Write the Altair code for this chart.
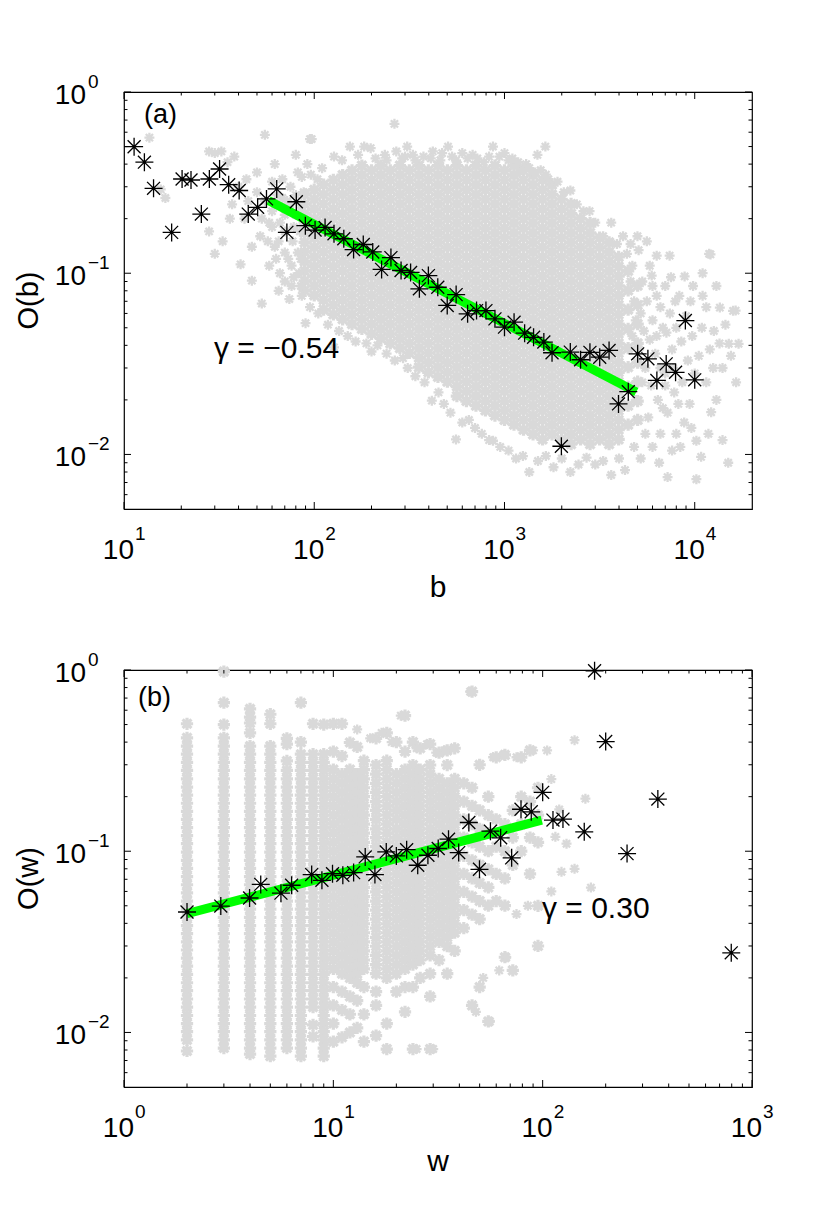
import altair as alt
import pandas as pd

W, H = 628, 417
FONT = "Liberation Sans"
GRAY = "#d9d9d9"
GREEN = "#00ff00"
STAR = "M-1,0L1,0M0,-1L0,1M-0.72,-0.72L0.72,0.72M-0.72,0.72L0.72,-0.72"

# ---------------- panel (a): O(b) ----------------
bin_a_b = [11.3, 12.8, 14.3, 17.8, 20.2, 22.5, 25.5, 28.1, 31.8, 35.5, 40.3, 45.0, 50.4, 56.1, 63.5,
           71.8, 80.5, 89.8, 101, 114, 127, 143, 161, 181, 203, 226, 253, 286, 321, 357, 398, 446,
           500, 557, 640, 713, 799, 891, 1000, 1123, 1276, 1422, 1610, 1778, 1991, 2218, 2512,
           2813, 3166, 3546, 3975, 4475, 5012, 5673, 6324, 7080, 7930, 8928, 10000]
bin_a_o = [0.499, 0.41, 0.294, 0.168, 0.331, 0.327, 0.212, 0.331, 0.376, 0.308, 0.286, 0.212, 0.231,
           0.257, 0.292, 0.168, 0.248, 0.183, 0.173, 0.179, 0.165, 0.155, 0.135, 0.144, 0.131, 0.105,
           0.122, 0.1035, 0.101, 0.082, 0.097, 0.0837, 0.0664, 0.0762, 0.0597, 0.0622, 0.0622, 0.056,
           0.0504, 0.0537, 0.0467, 0.0443, 0.0417, 0.0364, 0.0111, 0.0367, 0.0333, 0.0366, 0.0344,
           0.0375, 0.019, 0.0222, 0.0359, 0.0337, 0.0256, 0.0316, 0.0284, 0.0548, 0.0258]
fit_a_b = [57.5, 4930]
fit_a_o = [0.252, 0.0221]

gray_a_col_b = [89, 100, 112, 126, 141, 158, 178, 200, 224, 251, 282, 316, 355, 398, 447, 501, 562,
                631, 708, 794, 891, 1000, 1122, 1259, 1413, 1585, 1778, 1995, 2239, 2512, 2818, 3162,
                3548, 3981, 4467, 5012]
gray_a_col_o = [
    [.272, .241, .213, .189, .167, .148, .131, .116, .103, .0908, .0804],
    [.289, .256, .226, .2, .177, .157, .139, .123, .109, .0964, .0853, .0755],
    [.308, .272, .241, .213, .189, .167, .148, .131, .116, .103, .0908, .0804, .0711, .063],
    [.327, .289, .256, .226, .2, .177, .157, .139, .123, .109, .0964, .0853, .0755, .0668, .0592],
    [.348, .308, .272, .241, .213, .189, .167, .148, .131, .116, .103, .0908, .0804, .0711, .063, .0557],
    [.369, .327, .289, .256, .226, .2, .177, .157, .139, .123, .109, .0964, .0853, .0755, .0668, .0592, .0524],
    [.393, .348, .308, .272, .241, .213, .189, .167, .148, .131, .116, .103, .0908, .0804, .0711, .063, .0557, .0493],
    [.369, .327, .289, .256, .226, .2, .177, .157, .139, .123, .109, .0964, .0853, .0755, .0668, .0592, .0524, .0463],
    [.393, .348, .308, .272, .241, .213, .189, .167, .148, .131, .116, .103, .0908, .0804, .0711, .063, .0557, .0493, .0437],
    [.369, .327, .289, .256, .226, .2, .177, .157, .139, .123, .109, .0964, .0853, .0755, .0668, .0592, .0524, .0463, .041],
    [.393, .348, .308, .272, .241, .213, .189, .167, .148, .131, .116, .103, .0908, .0804, .0711, .063, .0557, .0493, .0437, .0386],
    [.369, .327, .289, .256, .226, .2, .177, .157, .139, .123, .109, .0964, .0853, .0755, .0668, .0592, .0524, .0463, .041, .0363],
    [.393, .348, .308, .272, .241, .213, .189, .167, .148, .131, .116, .103, .0908, .0804, .0711, .063, .0557, .0493, .0437, .0386, .0342, .0303],
    [.369, .327, .289, .256, .226, .2, .177, .157, .139, .123, .109, .0964, .0853, .0755, .0668, .0592, .0524, .0463, .041, .0363, .0321, .0284],
    [.393, .348, .308, .272, .241, .213, .189, .167, .148, .131, .116, .103, .0908, .0804, .0711, .063, .0557, .0493, .0437, .0386, .0342, .0303, .0268],
    [.369, .327, .289, .256, .226, .2, .177, .157, .139, .123, .109, .0964, .0853, .0755, .0668, .0592, .0524, .0463, .041, .0363, .0321, .0284, .0252],
    [.393, .348, .308, .272, .241, .213, .189, .167, .148, .131, .116, .103, .0908, .0804, .0711, .063, .0557, .0493, .0437, .0386, .0342, .0303, .0268, .0237, .021],
    [.369, .327, .289, .256, .226, .2, .177, .157, .139, .123, .109, .0964, .0853, .0755, .0668, .0592, .0524, .0463, .041, .0363, .0321, .0284, .0252, .0223, .0197],
    [.393, .348, .308, .272, .241, .213, .189, .167, .148, .131, .116, .103, .0908, .0804, .0711, .063, .0557, .0493, .0437, .0386, .0342, .0303, .0268, .0237, .021, .0186],
    [.369, .327, .289, .256, .226, .2, .177, .157, .139, .123, .109, .0964, .0853, .0755, .0668, .0592, .0524, .0463, .041, .0363, .0321, .0284, .0252, .0223, .0197, .0175],
    [.393, .348, .308, .272, .241, .213, .189, .167, .148, .131, .116, .103, .0908, .0804, .0711, .063, .0557, .0493, .0437, .0386, .0342, .0303, .0268, .0237, .021, .0186, .0164],
    [.369, .327, .289, .256, .226, .2, .177, .157, .139, .123, .109, .0964, .0853, .0755, .0668, .0592, .0524, .0463, .041, .0363, .0321, .0284, .0252, .0223, .0197, .0175, .0155],
    [.393, .348, .308, .272, .241, .213, .189, .167, .148, .131, .116, .103, .0908, .0804, .0711, .063, .0557, .0493, .0437, .0386, .0342, .0303, .0268, .0237, .021, .0186, .0164, .0146],
    [.369, .327, .289, .256, .226, .2, .177, .157, .139, .123, .109, .0964, .0853, .0755, .0668, .0592, .0524, .0463, .041, .0363, .0321, .0284, .0252, .0223, .0197, .0175, .0155, .0137],
    [.348, .308, .272, .241, .213, .189, .167, .148, .131, .116, .103, .0908, .0804, .0711, .063, .0557, .0493, .0437, .0386, .0342, .0303, .0268, .0237, .021, .0186, .0164, .0146, .0129],
    [.327, .289, .256, .226, .2, .177, .157, .139, .123, .109, .0964, .0853, .0755, .0668, .0592, .0524, .0463, .041, .0363, .0321, .0284, .0252, .0223, .0197, .0175, .0155, .0137, .0121],
    [.308, .272, .241, .213, .189, .167, .148, .131, .116, .103, .0908, .0804, .0711, .063, .0557, .0493, .0437, .0386, .0342, .0303, .0268, .0237, .021, .0186, .0164, .0146, .0129],
    [.256, .226, .2, .177, .157, .139, .123, .109, .0964, .0853, .0755, .0668, .0592, .0524, .0463, .041, .0363, .0321, .0284, .0252, .0223, .0197, .0175, .0155, .0137, .0121],
    [.241, .213, .189, .167, .148, .131, .116, .103, .0908, .0804, .0711, .063, .0557, .0493, .0437, .0386, .0342, .0303, .0268, .0237, .021, .0186, .0164, .0146, .0129, .0114],
    [.2, .177, .157, .139, .123, .109, .0964, .0853, .0755, .0668, .0592, .0524, .0463, .041, .0363, .0321, .0284, .0252, .0223, .0197, .0175, .0155, .0137, .0121],
    [.189, .167, .148, .131, .116, .103, .0908, .0804, .0711, .063, .0557, .0493, .0437, .0386, .0342, .0303, .0268, .0237, .021, .0186, .0164, .0146, .0129, .0114],
    [.157, .139, .123, .109, .0964, .0853, .0755, .0668, .0592, .0524, .0463, .041, .0363, .0321, .0284, .0252, .0223, .0197, .0175, .0155, .0137, .0121],
    [.148, .131, .116, .103, .0908, .0804, .0711, .063, .0557, .0493, .0437, .0386, .0342, .0303, .0268, .0237, .021, .0186, .0164, .0146, .0129, .0114],
    [.123, .109, .0964, .0853, .0755, .0668, .0592, .0524, .0463, .041, .0363, .0321, .0284, .0252, .0223, .0197, .0175, .0155, .0137, .0121],
    [.103, .0804, .063, .0493, .0386, .0303, .0237, .0186, .0146],
    [.0853, .0668, .0524, .041, .0321, .0252, .0197, .0155],
]
gray_a_left = [(13.6, .56), (15.6, .29), (16.5, .26), (28, .47), (30, .46), (32.5, .47), (35, .41), (38, .44),
               (28, .17), (30, .128), (33, .15), (36, .2), (40, .3), (41, .112), (43, .2), (45, .25),
               (47, .091), (47, .14), (50, .36), (50, .28), (53, .068), (53, .2), (55, .58), (57, .15),
               (58, .11), (60, .22), (60, .32), (62, .4), (63, .12), (66, .19), (66, .1), (68, .33),
               (70, .17), (72, .25), (74, .072), (75, .3), (77, .15), (78, .095), (80, .21), (80, .45),
               (82, .36), (85, .12), (85, .085), (88, .28), (88, .2), (37, .24), (44, .33), (52, .16),
               (64, .27), (70, .13), (76, .11), (84, .17), (86, .34), (92, .4), (95, .55), (96, .35),
               (104, .33), (110, .38), (60, .18), (65, .15), (70, .21), (75, .24), (78, .18), (82, .13),
               (85, .23), (68, .26), (73, .12), (62, .14), (55, .25), (58, .19), (80, .27), (83, .1),
               (86, .075), (76, .085), (70, .09), (65, .08)]
gray_a_top = [(97, .55), (127, .44), (140, .42), (154, .5), (170, .45), (183, .5), (198, .49), (210, .43),
              (235, .45), (264, .667), (270, .47), (300, .44), (308, .5), (330, .45), (375, .44), (420, .47),
              (470, .46), (505, .5), (530, .44), (557, .42), (600, .46), (680, .45), (780, .41), (870, .5),
              (940, .44), (1000, .46), (1100, .43), (1220, .37), (1300, .4), (1490, .45), (1640, .5),
              (1550, .37), (1700, .33), (1900, .32), (2050, .28), (2220, .286), (2400, .24), (2600, .22),
              (2800, .22), (3000, .19), (3300, .16), (3640, .19), (3900, .145), (4400, .128), (4200, .16),
              (240, .42), (290, .43), (340, .42), (410, .43), (460, .42), (640, .43), (720, .43), (830, .44),
              (1050, .42), (1180, .41), (1350, .38), (1450, .36), (1650, .35)]
gray_a_bottom = [(90, .053), (95, .065), (105, .06), (118, .052), (127, .039), (135, .048), (150, .045),
                 (165, .042), (188, .041), (200, .037), (215, .04), (240, .036), (265, .033), (293, .034),
                 (310, .03), (340, .027), (380, .025), (415, .0198), (450, .022), (480, .019), (520, .017),
                 (556, .0121), (600, .015), (650, .0155), (700, .014), (760, .013), (830, .012), (870, .0119),
                 (950, .011), (1050, .0105), (1150, .0095), (1250, .0098), (1350, .008), (1500, .0092),
                 (1650, .0098), (1810, .0085), (2000, .0095), (2220, .008), (2450, .0088), (2700, .0096),
                 (3000, .0088), (3300, .0092), (3640, .0077), (4000, .0095), (4300, .0082)]
gray_a_right = [(4700, .11), (5070, .134), (5300, .09), (5600, .07), (5940, .097), (6310, .125), (6310, .075),
                (6000, .055), (5800, .043), (6200, .036), (5500, .03), (5900, .024), (6400, .02), (5700, .016),
                (6600, .013), (6000, .011), (5200, .0095), (6500, .009), (7200, .0075), (7380, .125),
                (7000, .085), (7400, .06), (7100, .047), (7600, .038), (7000, .028), (7800, .022),
                (7200, .017), (8000, .013), (7600, .0105), (8850, .096), (8300, .075), (9000, .058),
                (8500, .042), (9200, .033), (8600, .025), (9400, .019), (8800, .015), (10200, .0119),
                (10800, .0097), (10200, .0073), (10900, .05), (12100, .127), (11900, .128), (12600, .048),
                (13500, .041), (13550, .0646), (14000, .03), (12200, .0171), (15100, .0408), (16400, .0622),
                (17000, .0408), (15900, .062), (11000, .075), (11500, .025), (13000, .02), (9800, .085),
                (10500, .035), (4600, .09), (4800, .07), (4900, .055), (4700, .045), (5200, .06),
                (5400, .048), (5100, .038), (5300, .025), (4900, .02), (5500, .013), (4800, .011),
                (5800, .11), (6000, .085), (6600, .065), (6800, .05), (6300, .045), (6600, .03),
                (7000, .024), (6800, .018), (7500, .095), (7900, .07), (8000, .05), (7700, .03),
                (8200, .019), (8400, .011), (9500, .07), (9700, .045), (10000, .028), (9600, .014),
                (11000, .1), (11500, .065), (12000, .038), (12500, .03), (11800, .013), (13000, .085),
                (14500, .052), (15500, .035), (16500, .025), (14000, .012), (15000, .009), (4600, .145),
                (5000, .16), (5600, .15)]

# ---------------- panel (b): O(w) ----------------
bin_b_w = [2, 2.9, 3.98, 4.5, 5.62, 6.32, 7.88, 8.82, 9.91, 11.1, 12.5, 14.2, 15.8, 17.9, 20.0, 22.4,
           25.3, 28.3, 31.7, 35.5, 39.7, 44.4, 49.9, 56.3, 63.0, 71.1, 78.8, 88.2, 100, 112, 125, 158,
           177, 200, 253, 355, 796]
bin_b_o = [0.0462, 0.0498, 0.0552, 0.0656, 0.0587, 0.0649, 0.0743, 0.0691, 0.0752, 0.0736, 0.0762, 0.093,
           0.0743, 0.0991, 0.0942, 0.102, 0.0837, 0.095, 0.1035, 0.1165, 0.0983, 0.144, 0.0795, 0.129,
           0.1186, 0.0919, 0.1705, 0.165, 0.2113, 0.1485, 0.1504, 0.128, 0.99, 0.403, 0.097, 0.194, 0.0275]
fit_b_w = [2, 99]
fit_b_o = [0.0452, 0.1485]

gray_b_col_w = [2, 3, 4, 5, 6, 7, 8, 9]
gray_b_col_o = [
    [.505, .422, .38, .343, .309, .279, .251, .226, .204, .184, .166, .15, .135, .122, .11, .0989, .0891, .0804, .0724, .0653, .0589, .0531, .0479, .0432, .0389, .0351, .0316, .0285, .0257, .0232, .0209, .0188, .017, .0153, .0138, .0124, .0112, .0101, .0091, .0079],
    [.98, .66, .50, .422, .38, .343, .309, .279, .251, .226, .204, .184, .166, .15, .135, .122, .11, .0989, .0891, .0804, .0724, .0653, .0589, .0531, .0479, .0432, .0389, .0351, .0316, .0285, .0257, .0232, .0209, .0188, .017, .0153, .0138, .0124, .0112, .0101, .0091, .0082],
    [.61, .55, .51, .45, .38, .343, .309, .279, .251, .226, .204, .184, .166, .15, .135, .122, .11, .0989, .0891, .0804, .0724, .0653, .0589, .0531, .0479, .0432, .0389, .0351, .0316, .0285, .0257, .0232, .0209, .0188, .017, .0153, .0138, .0124, .0112, .0101, .0091, .0082, .0076],
    [.57, .505, .38, .343, .309, .279, .251, .226, .204, .184, .166, .15, .135, .122, .11, .0989, .0891, .0804, .0724, .0653, .0589, .0531, .0479, .0432, .0389, .0351, .0316, .0285, .0257, .0232, .0209, .0188, .017, .0153, .0138, .0124, .0112, .0101, .0091, .0082, .0074],
    [.42, .39, .315, .279, .251, .226, .204, .184, .166, .15, .135, .122, .11, .0989, .0891, .0804, .0724, .0653, .0589, .0531, .0479, .0432, .0389, .0351, .0316, .0285, .0257, .0232, .0209, .0188, .017, .0153, .0138, .0124, .0112, .0101, .0091, .0082],
    [.66, .40, .343, .309, .279, .251, .226, .204, .184, .166, .15, .135, .122, .11, .0989, .0891, .0804, .0724, .0653, .0589, .0531, .0479, .0432, .0389, .0351, .0316, .0285, .0257, .0232, .0209, .0188, .017, .0153, .0138, .0124, .0112, .0101, .0091, .0082, .0074],
    [.505, .343, .309, .279, .251, .226, .204, .184, .166, .15, .135, .122, .11, .0989, .0891, .0804, .0724, .0653, .0589, .0531, .0479, .0432, .0389, .0351, .0316, .0285, .0257, .0232, .0209, .0188, .017, .0153, .0138, .011, .0095],
    [.50, .343, .309, .279, .251, .226, .204, .184, .166, .15, .135, .122, .11, .0989, .0891, .0804, .0724, .0653, .0589, .0531, .0479, .0432, .0389, .0351, .0316, .0285, .0257, .0232, .0209, .0188, .017, .0153, .0138, .0124, .0112, .0101, .0091, .0082, .0074],
]
gray_b_blob_w = [10, 11, 12, 13, 14, 16, 18, 20, 22, 24, 26, 29, 32, 35, 38, 42, 46, 50, 55, 60, 66, 72, 79, 87, 95]
gray_b_blob_o = [
    [.505, .355, .282, .251, .224, .2, .178, .158, .141, .126, .112, .1, .0891, .0794, .0708, .0631, .0562, .0501, .0447, .0398, .0355, .0316, .0282, .0251, .0224, .0178, .0141, .0112, .0089],
    [.505, .335, .266, .237, .211, .188, .168, .15, .133, .119, .106, .0944, .0841, .075, .0668, .0596, .0531, .0473, .0422, .0376, .0335, .0299, .0266, .0237, .0211, .0168, .0133, .0094],
    [.398, .282, .251, .224, .2, .178, .158, .141, .126, .112, .1, .0891, .0794, .0708, .0631, .0562, .0501, .0447, .0398, .0355, .0316, .0282, .0251, .0224, .02, .0158, .0126, .01],
    [.376, .266, .237, .211, .188, .168, .15, .133, .119, .106, .0944, .0841, .075, .0668, .0596, .0531, .0473, .0422, .0376, .0335, .0299, .0266, .0237, .0211, .0188, .015, .0106],
    [.316, .282, .251, .224, .2, .178, .158, .141, .126, .112, .1, .0891, .0794, .0708, .0631, .0562, .0501, .0447, .0398, .0355, .0316, .0282, .0251, .0224, .0178, .0126, .0089],
    [.42, .299, .266, .237, .211, .188, .168, .15, .133, .119, .106, .0944, .0841, .075, .0668, .0596, .0531, .0473, .0422, .0376, .0335, .0299, .0266, .0237, .0211, .0168, .0141, .0096],
    [.45, .316, .282, .251, .224, .2, .178, .158, .141, .126, .112, .1, .0891, .0794, .0708, .0631, .0562, .0501, .0447, .0398, .0355, .0316, .0282, .0251, .0224, .02, .0112, .0081],
    [.40, .266, .237, .211, .188, .168, .15, .133, .119, .106, .0944, .0841, .075, .0668, .0596, .0531, .0473, .0422, .0376, .0335, .0299, .0266, .0237, .0211, .0168],
    [.56, .355, .282, .251, .224, .2, .178, .158, .141, .126, .112, .1, .0891, .0794, .0708, .0631, .0562, .0501, .0447, .0398, .0355, .0316, .0282, .0251, .0224, .0178, .013],
    [.40, .299, .266, .237, .211, .188, .168, .15, .133, .119, .106, .0944, .0841, .075, .0668, .0596, .0531, .0473, .0422, .0376, .0335, .0299, .0266, .0237, .0178, .0081],
    [.37, .282, .251, .224, .2, .178, .158, .141, .126, .112, .1, .0891, .0794, .0708, .0631, .0562, .0501, .0447, .0398, .0355, .0316, .0282, .0251, .02],
    [.39, .299, .266, .237, .211, .188, .168, .15, .133, .119, .106, .0944, .0841, .075, .0668, .0596, .0531, .0473, .0422, .0376, .0335, .0299, .0266, .0211, .0158, .0081],
    [.35, .251, .224, .2, .178, .158, .141, .126, .112, .1, .0891, .0794, .0708, .0631, .0562, .0501, .0447, .0398, .0355, .0316, .0251],
    [.36, .299, .237, .211, .188, .168, .15, .133, .119, .106, .0944, .0841, .075, .0668, .0596, .0531, .0473, .0422, .0376, .0335, .0299, .0211],
    [.37, .251, .224, .2, .178, .158, .141, .126, .112, .1, .0891, .0794, .0708, .0631, .0562, .0501, .0447, .0398, .0355, .0282],
    [.237, .188, .15, .119, .0944, .075, .0596, .0473, .0376],
    [.76, .224, .178, .141, .112, .0891, .0708, .0562, .0447, .0141],
    [.30, .168, .133, .106, .0841, .0668, .0531, .0422, .0178],
    [.2, .158, .126, .1, .0794, .0631, .0501, .0115],
    [.33, .15, .106, .075, .0531],
    [.34, .141, .1, .0708, .0501, .026],
    [.168, .119, .0841, .022],
    [.33, .2, .141, .1],
    [.36, .188, .119, .075],
    [.224, .158, .112, .05, .03],
]
gray_b_extra = [(13, .47), (15, .42), (17, .45), (19, .40), (21, .56), (25, .37), (28, .39), (31, .35),
                (34, .36), (45, .76), (58, .33), (65, .34), (75, .33), (90, .36), (105, .36), (110, .25),
                (120, .17), (115, .12), (123, .077), (130, .11), (142, .41), (142, .08), (160, .195),
                (170, .063), (85, .05), (75, .045), (110, .06), (62, .022), (52, .02), (67, .026),
                (56, .0115), (48, .013), (30, .0081), (25, .0081), (18, .0081), (16, .0096)]

# ---------------- axes ----------------
a_x_major = [10, 100, 1000, 10000]
a_x_minor = [20, 30, 40, 50, 60, 70, 80, 90, 200, 300, 400, 500, 600, 700, 800, 900,
             2000, 3000, 4000, 5000, 6000, 7000, 8000, 9000]
b_x_major = [1, 10, 100, 1000]
b_x_minor = [2, 3, 4, 5, 6, 7, 8, 9, 20, 30, 40, 50, 60, 70, 80, 90, 200, 300, 400, 500, 600, 700, 800, 900]
y_major = [0.01, 0.1, 1]
y_minor = [0.006, 0.007, 0.008, 0.009, 0.02, 0.03, 0.04, 0.05, 0.06, 0.07, 0.08, 0.09,
           0.2, 0.3, 0.4, 0.5, 0.6, 0.7, 0.8, 0.9]
a_x_lab = [10, 100, 1000, 10000]
a_x_exp = ["1", "2", "3", "4"]
b_x_lab = [1, 10, 100, 1000]
b_x_exp = ["0", "1", "2", "3"]
y_lab = [1, 0.1, 0.01]
y_exp = ["0", "\u22121", "\u22122"]


def expand(col_x, col_y):
    xs, ys = [], []
    for x, col in zip(col_x, col_y):
        xs.extend([x] * len(col))
        ys.extend(col)
    return xs, ys


def from_pairs(*lists):
    xs, ys = [], []
    for lst in lists:
        for x, y in lst:
            xs.append(x)
            ys.append(y)
    return xs, ys


def one(text):
    return pd.DataFrame({"t": [text]})


def panel(xdom, dense, sparse, bx, by, fx, fy, xmaj, xmin, xlab, xexp, tag, tag_xy, gtxt, g_xy,
          xtitle, xtitle_y, ytitle, anchor):
    xs = alt.Scale(type="log", domain=xdom, nice=False)
    ys = alt.Scale(type="log", domain=[0.005, 1], nice=False)

    def X(f):
        return alt.X(f + ":Q", scale=xs, axis=None)

    def Y(f):
        return alt.Y(f + ":Q", scale=ys, axis=None)

    layers = [
        # dense core of the cloud (many overlapping points)
        alt.Chart(pd.DataFrame({"x": dense[0], "y": dense[1]})).mark_point(
            shape=STAR, size=150, filled=False, color=GRAY, strokeWidth=3.2, opacity=1
        ).encode(x=X("x"), y=Y("y")),
        # isolated points
        alt.Chart(pd.DataFrame({"x": sparse[0], "y": sparse[1]})).mark_point(
            shape=STAR, size=100, filled=False, color=GRAY, strokeWidth=2.3, opacity=1
        ).encode(x=X("x"), y=Y("y")),
        alt.Chart(pd.DataFrame({"x": fx, "y": fy})).mark_line(
            color=GREEN, strokeWidth=9
        ).encode(x=X("x"), y=Y("y")),
        alt.Chart(pd.DataFrame({"x": bx, "y": by})).mark_point(
            shape=STAR, size=324, filled=False, color="black", strokeWidth=1.3, opacity=1
        ).encode(x=X("x"), y=Y("y")),
    ]

    def rule(vals, axis, side, L):
        base = alt.Chart(pd.DataFrame({"v": vals})).mark_rule(color="black", strokeWidth=1)
        if axis == "x":
            y0, y1 = (H, H - L) if side == "low" else (0, L)
            return base.encode(x=X("v"), y=alt.value(y0), y2=alt.value(y1))
        x0, x1 = (0, L) if side == "low" else (W, W - L)
        return base.encode(y=Y("v"), x=alt.value(x0), x2=alt.value(x1))

    for side in ("low", "high"):
        layers += [rule(xmaj, "x", side, 7), rule(xmin, "x", side, 3.5),
                   rule(y_major, "y", side, 7), rule(y_minor, "y", side, 3.5)]

    xl = pd.DataFrame({"v": xlab, "t": ["10"] * len(xlab), "e": xexp})
    yl = pd.DataFrame({"v": y_lab, "t": ["10"] * len(y_lab), "e": y_exp})
    layers += [
        alt.Chart(xl).mark_text(align="right", baseline="alphabetic", dx=10, fontSize=28, font=FONT,
                                color="black").encode(x=X("v"), y=alt.value(H + 50), text="t:N"),
        alt.Chart(xl).mark_text(align="left", baseline="alphabetic", dx=11, fontSize=19, font=FONT,
                                color="black").encode(x=X("v"), y=alt.value(H + 31), text="e:N"),
        alt.Chart(yl).mark_text(align="right", baseline="alphabetic", dy=12, fontSize=28, font=FONT,
                                color="black").encode(x=alt.value(-38), y=Y("v"), text="t:N"),
        alt.Chart(yl).mark_text(align="left", baseline="alphabetic", dy=-4, fontSize=19, font=FONT,
                                color="black").encode(x=alt.value(-36), y=Y("v"), text="e:N"),
        alt.Chart(one(xtitle)).mark_text(align="center", baseline="alphabetic", fontSize=30, font=FONT,
                                         color="black").encode(x=alt.value(W / 2), y=alt.value(xtitle_y), text="t:N"),
        alt.Chart(one(ytitle)).mark_text(align="center", baseline="alphabetic", angle=270, fontSize=29,
                                         font=FONT, color="black").encode(x=alt.value(-86), y=alt.value(H / 2), text="t:N"),
        alt.Chart(one(tag)).mark_text(align="left", baseline="alphabetic", fontSize=27, font=FONT,
                                      color="black").encode(x=alt.value(tag_xy[0]), y=alt.value(tag_xy[1]), text="t:N"),
        alt.Chart(one(gtxt)).mark_text(align="left", baseline="alphabetic", fontSize=30, font=FONT,
                                       color="black").encode(x=alt.value(g_xy[0]), y=alt.value(g_xy[1]), text="t:N"),
    ]
    if anchor:
        layers.append(alt.Chart(one("")).mark_rule(strokeWidth=0, color="white").encode(
            x=alt.value(-115), x2=alt.value(-115), y=alt.value(-83), y2=alt.value(-83)))
    return alt.layer(*layers).properties(width=W, height=H)


dense_a = expand(gray_a_col_b, gray_a_col_o)
sparse_a = from_pairs(gray_a_left, gray_a_top, gray_a_bottom, gray_a_right)
sb_x, sb_y = expand(gray_b_col_w, gray_b_col_o)
bb_x, bb_y = expand(gray_b_blob_w, gray_b_blob_o)
dense_b = (sb_x + bb_x, sb_y + bb_y)
sparse_b = from_pairs(gray_b_extra)

pa = panel([10, 20000], dense_a, sparse_a, bin_a_b, bin_a_o, fit_a_b, fit_a_o,
           a_x_major, a_x_minor, a_x_lab, a_x_exp, "(a)", (20, 31), "\u03b3 = \u22120.54", (90, 266),
           "b", H + 88, "O(b)", True)
pb = panel([1, 1000], dense_b, sparse_b, bin_b_w, bin_b_o, fit_b_w, fit_b_o,
           b_x_major, b_x_minor, b_x_lab, b_x_exp, "(b)", (14, 36), "\u03b3 = 0.30", (418, 248),
           "w", H + 84, "O(w)", False)

chart = alt.vconcat(pa, pb, spacing=161, bounds="flush", padding=0).configure_view(
    stroke="black", strokeWidth=1.2)
chart.save("out.html", embed_options={"renderer": "svg", "actions": False})
